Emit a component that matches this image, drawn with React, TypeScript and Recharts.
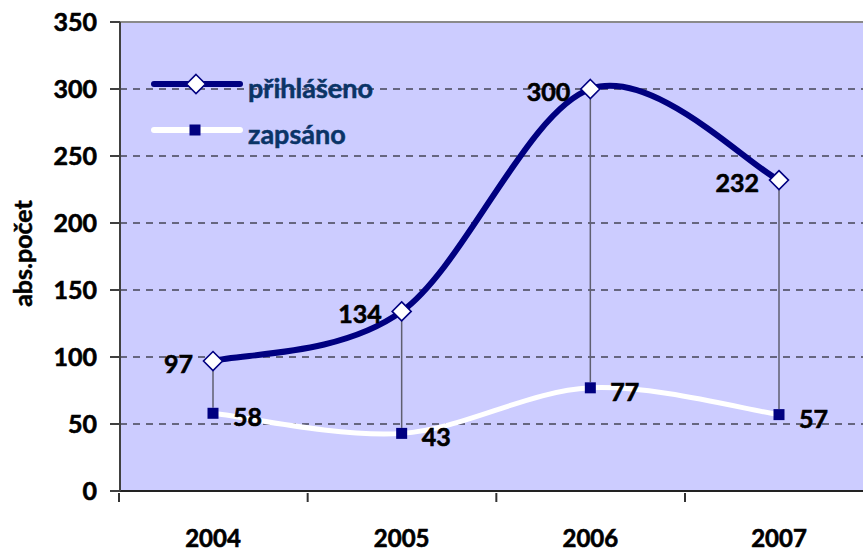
import {
  LineChart,
  Line,
  XAxis,
  YAxis,
  CartesianGrid,
  ReferenceLine,
  LabelList,
  Legend,
  Label,
} from 'recharts';

const years = ['2004', '2005', '2006', '2007'];
const prihlaseno = [97, 134, 300, 232];
const zapsano = [58, 43, 77, 57];
const yTicks = [0, 50, 100, 150, 200, 250, 300, 350];

const data = years.map((year, i) => ({
  year,
  prihlaseno: prihlaseno[i],
  zapsano: zapsano[i],
}));

const NAVY = '#000080';
const PLOT_BG = '#CCCCFF';
const FONT = 'Lato, "Noto Sans", sans-serif';
const HALF_BAND = 94;

// Excel-like smoothed line (Catmull-Rom style bezier segments)
const excelSmooth: any = (context: any) => {
  let pts: number[][] = [];
  return {
    areaStart() {},
    areaEnd() {},
    lineStart() {
      pts = [];
    },
    point(x: number, y: number) {
      pts.push([+x, +y]);
    },
    lineEnd() {
      if (!pts.length) return;
      context.moveTo(pts[0][0], pts[0][1]);
      for (let i = 0; i < pts.length - 1; i++) {
        const p0 = pts[Math.max(i - 1, 0)];
        const p1 = pts[i];
        const p2 = pts[i + 1];
        const p3 = pts[Math.min(i + 2, pts.length - 1)];
        context.bezierCurveTo(
          p1[0] + (p2[0] - p0[0]) / 6,
          p1[1] + (p2[1] - p0[1]) / 6,
          p2[0] - (p3[0] - p1[0]) / 6,
          p2[1] - (p3[1] - p1[1]) / 6,
          p2[0],
          p2[1]
        );
      }
    },
  };
};

const Diamond = ({ cx, cy, r = 9.5 }: any) => (
  <path
    d={`M${cx},${cy - r}L${cx + r},${cy}L${cx},${cy + r}L${cx - r},${cy}Z`}
    fill="#fff"
    stroke={NAVY}
    strokeWidth={1.6}
  />
);

const Square = ({ cx, cy, s = 11 }: any) => (
  <rect x={cx - s / 2} y={cy - s / 2} width={s} height={s} fill={NAVY} />
);

const renderDiamondDot = (props: any) => (
  <Diamond key={`d-${props.index}`} cx={props.cx} cy={props.cy} />
);

const renderSquareDot = (props: any) => (
  <Square key={`s-${props.index}`} cx={props.cx} cy={props.cy} />
);

const labelStyle: any = {
  fontFamily: FONT,
  fontWeight: 700,
  fontSize: 25,
  fill: '#000',
  stroke: '#000',
  strokeWidth: 0.6,
};

const TopLabel = (props: any) => {
  const { x, y, value } = props;
  return (
    <text x={x - 20} y={y + 2} textAnchor="end" dominantBaseline="central" style={labelStyle}>
      {value}
    </text>
  );
};

const BottomLabel = (props: any) => {
  const { x, y, value } = props;
  return (
    <text x={x + 20} y={y + 3} textAnchor="start" dominantBaseline="central" style={labelStyle}>
      {value}
    </text>
  );
};

const XTick = (props: any) => {
  const { x, y, payload, index } = props;
  return (
    <g>
      <line x1={x - HALF_BAND} y1={y} x2={x - HALF_BAND} y2={y + 9} stroke="#333" strokeWidth={2} />
      {index === years.length - 1 && (
        <line x1={x + HALF_BAND} y1={y} x2={x + HALF_BAND} y2={y + 9} stroke="#333" strokeWidth={2} />
      )}
      <text x={x} y={y + 44} textAnchor="middle" dominantBaseline="central" style={{ ...labelStyle, fontSize: 24 }}>
        {payload.value}
      </text>
    </g>
  );
};

const DropLine = (props: any) => {
  const { x1, y1, x2, y2 } = props;
  const top = Math.min(y1, y2);
  const bottom = Math.max(y1, y2);
  return (
    <line x1={x1} x2={x2} y1={top + 9.5} y2={bottom - 5.5} stroke="#5f5f70" strokeWidth={1.5} />
  );
};

const legendStyles: Record<string, { line: string; marker: 'diamond' | 'square' }> = {
  prihlaseno: { line: NAVY, marker: 'diamond' },
  zapsano: { line: '#ffffff', marker: 'square' },
};

const renderLegend = (props: any) => {
  const { payload = [] } = props;
  return (
    <svg width={260} height={100} style={{ display: 'block' }}>
      {payload.map((entry: any, i: number) => {
        const key = entry.dataKey as string;
        const st = legendStyles[key] || legendStyles.prihlaseno;
        const cy = 24 + i * 46;
        return (
          <g key={key}>
            <line x1={14} y1={cy} x2={100} y2={cy} stroke={st.line} strokeWidth={6} strokeLinecap="round" />
            {st.marker === 'diamond' ? <Diamond cx={56} cy={cy} /> : <Square cx={55} cy={cy} />}
            <text
              x={108}
              y={cy + 3}
              dominantBaseline="central"
              style={{
                fontFamily: FONT,
                fontWeight: 700,
                fontSize: 27,
                fill: '#0a3467',
                stroke: '#0a3467',
                strokeWidth: 0.5,
              }}
            >
              {entry.value}
            </text>
          </g>
        );
      })}
    </svg>
  );
};

export default function App() {
  return (
    <div
      style={{
        position: 'absolute',
        left: 0,
        top: 0,
        width: 863,
        height: 551,
        overflow: 'hidden',
        background: '#fff',
      }}
    >
      <LineChart
        width={873}
        height={551}
        data={data}
        margin={{ top: 22, right: 1, bottom: 0, left: 0 }}
      >
        <CartesianGrid
          vertical={false}
          stroke="#000"
          strokeDasharray="7 6"
          fill={PLOT_BG}
          fillOpacity={1}
        />
        <XAxis
          dataKey="year"
          scale="point"
          padding={{ left: 93, right: 93 }}
          height={60}
          tickSize={0}
          tickLine={false}
          axisLine={{ stroke: '#222', strokeWidth: 2 }}
          tick={<XTick />}
          interval={0}
        />
        <YAxis
          width={120}
          domain={[0, 350]}
          ticks={yTicks}
          interval={0}
          tickSize={10}
          tickMargin={13}
          axisLine={{ stroke: '#404040', strokeWidth: 2 }}
          tickLine={{ stroke: '#404040', strokeWidth: 2 }}
          tick={labelStyle}
        >
          <Label
            content={(p: any) => {
              const vb = p.viewBox || { y: 22, height: 469 };
              const cy = vb.y + vb.height / 2 - 3;
              return (
                <text
                  x={22}
                  y={cy}
                  transform={`rotate(-90, 22, ${cy})`}
                  textAnchor="middle"
                  dominantBaseline="central"
                  style={{ ...labelStyle, fontSize: 25, strokeWidth: 0.5 }}
                >
                  abs.počet
                </text>
              );
            }}
          />
        </YAxis>
        <ReferenceLine y={350} stroke="#8a8a8a" strokeWidth={2} />
        {data.map((d) => (
          <ReferenceLine
            key={`drop-${d.year}`}
            segment={[
              { x: d.year, y: d.zapsano },
              { x: d.year, y: d.prihlaseno },
            ]}
            shape={DropLine}
          />
        ))}
        <Legend
          layout="vertical"
          align="center"
          verticalAlign="middle"
          content={renderLegend}
          wrapperStyle={{ position: 'absolute', left: 140, top: 60, width: 260, height: 100 }}
        />
        <Line
          dataKey="zapsano"
          name="zapsáno"
          type={excelSmooth}
          stroke="#ffffff"
          strokeWidth={5}
          dot={renderSquareDot}
          activeDot={false}
          isAnimationActive={false}
        >
          <LabelList dataKey="zapsano" content={<BottomLabel />} />
        </Line>
        <Line
          dataKey="prihlaseno"
          name="přihlášeno"
          type={excelSmooth}
          stroke={NAVY}
          strokeWidth={6}
          dot={renderDiamondDot}
          activeDot={false}
          isAnimationActive={false}
        >
          <LabelList dataKey="prihlaseno" content={<TopLabel />} />
        </Line>
      </LineChart>
    </div>
  );
}
